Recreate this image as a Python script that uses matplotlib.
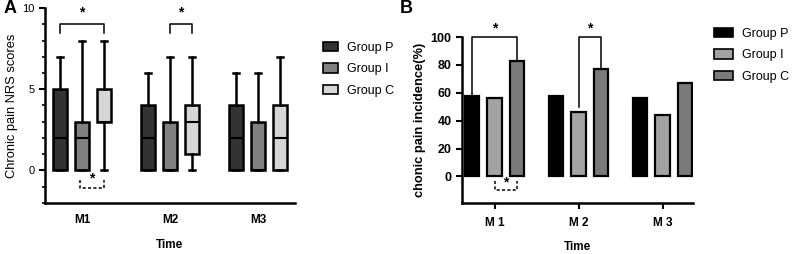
import numpy as np
import matplotlib.pyplot as plt
from matplotlib.patches import Patch

plt.rcParams['font.family'] = ['Liberation Sans', 'DejaVu Sans']

times = ["M1", "M2", "M3"]
time_labels_b = ["M 1", "M 2", "M 3"]
groups = ["Group P", "Group I", "Group C"]

# NRS scores: (whisker low, q1, median, q3, whisker high) per group, per time
nrs_p = [(0, 0, 2, 5, 7), (0, 0, 2, 4, 6), (0, 0, 2, 4, 6)]
nrs_i = [(0, 0, 2, 3, 8), (0, 0, 0, 3, 7), (0, 0, 0, 3, 6)]
nrs_c = [(0, 3, 3, 5, 8), (0, 1, 3, 4, 7), (0, 0, 2, 4, 7)]

# chronic pain incidence (%)
inc_p = [58, 58, 56]
inc_i = [56, 46, 44]
inc_c = [83, 77, 67]

colors_a = ["#333333", "#808080", "#d6d6d6"]
colors_b = ["#000000", "#a3a3a3", "#7a7a7a"]


def make_stats(summary):
    stats = []
    for lo, q1, med, q3, hi in summary:
        stats.append(dict(whislo=lo, q1=q1, med=med, q3=q3, whishi=hi, fliers=[]))
    return stats


def bracket(ax, x1, x2, y_top, y1, y2, star_y, dashed=False):
    ls = (0, (2, 1.5)) if dashed else '-'
    ax.plot([x1, x1, x2, x2], [y1, y_top, y_top, y2], color='black', lw=1.1,
            ls=ls, clip_on=False)
    ax.text((x1 + x2) / 2, star_y, "*", ha='center', va='center', fontsize=10,
            fontweight='bold', clip_on=False)


fig = plt.figure(figsize=(7.99, 2.54), dpi=100)

# ---------------- panel A ----------------
ax1 = fig.add_axes([0.0563, 0.2008, 0.3128, 0.7677])
offsets = [-0.25, 0.0, 0.25]
base = np.arange(1, 4)
for summ, off, col in zip([nrs_p, nrs_i, nrs_c], offsets, colors_a):
    ax1.bxp(make_stats(summ), positions=base + off, widths=0.15, patch_artist=True,
            showfliers=False,
            boxprops=dict(facecolor=col, edgecolor='black', linewidth=1.8),
            medianprops=dict(color='black', linewidth=1.5),
            whiskerprops=dict(color='black', linewidth=1.8),
            capprops=dict(color='black', linewidth=1.8), capwidths=0.07)

ax1.set_xlim(0.58, 3.42)
ax1.set_ylim(-2, 10)
ax1.set_xticks(base)
ax1.set_xticklabels(times, fontweight='bold', fontsize=8.5)
ax1.tick_params(axis='x', length=0, pad=8)
ax1.set_yticks([0, 5, 10])
ax1.set_yticks(np.arange(-2, 11, 1), minor=True)
ax1.tick_params(axis='y', labelsize=8, width=1.5, length=4)
ax1.tick_params(axis='y', which='minor', width=1.2, length=2.5)
for s in ['top', 'right']:
    ax1.spines[s].set_visible(False)
for s in ['left', 'bottom']:
    ax1.spines[s].set_linewidth(1.8)
ax1.set_ylabel("Chronic pain NRS scores", fontsize=9.3, labelpad=3)
ax1.set_xlabel("Time", fontweight='bold', fontsize=8.5, labelpad=9)

bracket(ax1, 0.75, 1.25, 9.0, 8.45, 8.45, 9.7)
bracket(ax1, 2.0, 2.25, 9.0, 8.45, 8.45, 9.7)
bracket(ax1, 0.98, 1.25, -1.1, -0.6, -0.6, -0.5, dashed=True)

ax1.legend([Patch(facecolor=c, edgecolor='black', linewidth=1.2) for c in colors_a], groups,
           loc='upper left', bbox_to_anchor=(0.39, 0.88), bbox_transform=fig.transFigure,
           frameon=False, fontsize=9, handlelength=1.2, handleheight=0.8,
           handletextpad=0.7, labelspacing=0.75)
fig.text(0.004, 0.965, "A", fontsize=13, fontweight='bold', va='center')

# ---------------- panel B ----------------
ax2 = fig.add_axes([0.578, 0.2008, 0.289, 0.6535])
offsets_b = [-0.27, 0.0, 0.27]
for vals, off, col in zip([inc_p, inc_i, inc_c], offsets_b, colors_b):
    ax2.bar(base + off, vals, width=0.17, color=col, edgecolor='black', linewidth=1.6)

ax2.set_xlim(0.61, 3.36)
ax2.set_ylim(-19, 100)
ax2.set_xticks(base)
ax2.set_xticklabels(time_labels_b, fontweight='bold', fontsize=8.5)
ax2.tick_params(axis='x', width=1.5, length=4, pad=6)
ax2.set_yticks(np.arange(0, 101, 20))
ax2.set_yticklabels([str(v) for v in range(0, 101, 20)], fontweight='bold', fontsize=9)
ax2.tick_params(axis='y', width=1.5, length=4)
for s in ['top', 'right']:
    ax2.spines[s].set_visible(False)
for s in ['left', 'bottom']:
    ax2.spines[s].set_linewidth(1.8)
ax2.set_ylabel("chonic pain incidence(%)", fontsize=9.3, fontweight='bold', labelpad=3)
ax2.set_xlabel("Time", fontweight='bold', fontsize=8.5, labelpad=9)

bracket(ax2, 0.73, 1.27, 100, inc_p[0], inc_c[0], 106)
bracket(ax2, 2.0, 2.27, 100, 50, inc_c[1], 106)
bracket(ax2, 1.0, 1.27, -10, -3, -3, -4, dashed=True)

ax2.legend([Patch(facecolor=c, edgecolor='black', linewidth=1.2) for c in colors_b], groups,
           loc='upper left', bbox_to_anchor=(0.88, 0.935), bbox_transform=fig.transFigure,
           frameon=False, fontsize=9, handlelength=1.5, handleheight=0.8,
           handletextpad=0.7, labelspacing=0.75)
fig.text(0.5, 0.965, "B", fontsize=13, fontweight='bold', va='center')

fig.savefig("out.png", dpi=100)
